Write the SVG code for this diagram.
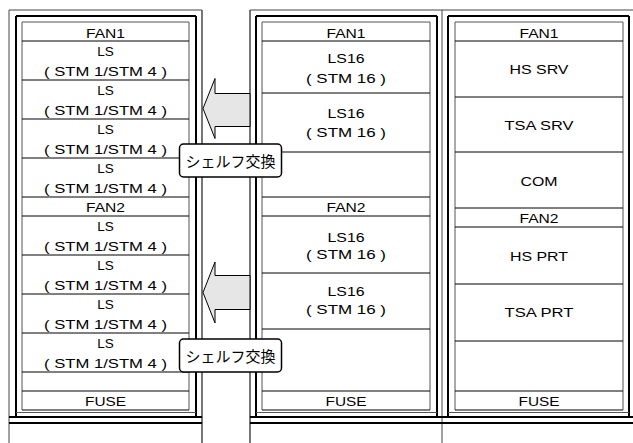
<svg xmlns="http://www.w3.org/2000/svg" width="633" height="443" viewBox="0 0 633 443">
<style>
.o{stroke:#444;stroke-width:1;fill:none}
.g{stroke:#555;stroke-width:1.6;fill:none}
.t{stroke:#000;stroke-width:2;fill:none}
.i{stroke:#555;stroke-width:1;fill:none}
.r{stroke:#000;stroke-width:1;fill:none}
text{font-family:"Liberation Sans",Arial,sans-serif;font-size:13.5px;text-anchor:middle;fill:#000}
.arrow{fill:#e6e6e6;stroke:#000;stroke-width:1}
.lbl{fill:#fff;stroke:#000;stroke-width:1.5}
.lt{font-family:"Noto Sans CJK JP","Noto Sans CJK SC",sans-serif;font-size:15px;dominant-baseline:central}
</style>
<rect width="633" height="443" fill="#fff"/>
<g id="frames">
<path class="o" d="M9,10H202M250,10H633M9,10V443M442,10V443"/>
<path class="g" d="M202,10V443M250,10V443"/>
<path class="t" d="M16,16H196M256,16H437M448,16H629M16,16V417M196,16V417M256,16V417M437,16V417M448,16V417M629,16V417"/>
<path class="t" d="M9,417H202M250,417H633M9,423H202M250,423H633"/>
<path class="i" d="M22,22H189M262,22H430M455,22H623M22,22V410M189,22V410M262,22V410M430,22V410M455,22V410M623,22V410M16,412.5H196M256,412.5H437M448,412.5H629"/>
</g>
<g id="rack-left">
<path class="r" d="M22,41H189M22,80H189M22,119H189M22,158H189M22,197H189M22,216H189M22,255H189M22,294H189M22,333H189M22,372H189M22,391H189M22,410H189"/>
<text x="105.5" y="37.5" textLength="39" lengthAdjust="spacingAndGlyphs">FAN1</text>
<text x="105.5" y="56">LS</text><text x="105.5" y="76" textLength="123" lengthAdjust="spacingAndGlyphs">( STM 1/STM 4 )</text>
<text x="105.5" y="95">LS</text><text x="105.5" y="115" textLength="123" lengthAdjust="spacingAndGlyphs">( STM 1/STM 4 )</text>
<text x="105.5" y="134">LS</text><text x="105.5" y="154" textLength="123" lengthAdjust="spacingAndGlyphs">( STM 1/STM 4 )</text>
<text x="105.5" y="173">LS</text><text x="105.5" y="193" textLength="123" lengthAdjust="spacingAndGlyphs">( STM 1/STM 4 )</text>
<text x="105.5" y="211.5" textLength="39" lengthAdjust="spacingAndGlyphs">FAN2</text>
<text x="105.5" y="231">LS</text><text x="105.5" y="251" textLength="123" lengthAdjust="spacingAndGlyphs">( STM 1/STM 4 )</text>
<text x="105.5" y="270">LS</text><text x="105.5" y="290" textLength="123" lengthAdjust="spacingAndGlyphs">( STM 1/STM 4 )</text>
<text x="105.5" y="309">LS</text><text x="105.5" y="329" textLength="123" lengthAdjust="spacingAndGlyphs">( STM 1/STM 4 )</text>
<text x="105.5" y="348">LS</text><text x="105.5" y="368" textLength="123" lengthAdjust="spacingAndGlyphs">( STM 1/STM 4 )</text>
<text x="105.5" y="405.5" textLength="41" lengthAdjust="spacingAndGlyphs">FUSE</text>
</g>
<g id="rack-middle">
<path class="r" d="M262,41H430M262,93H430M262,152H430M262,197H430M262,216H430M262,273H430M262,329H430M262,391H430M262,410H430"/>
<text x="346" y="37.5" textLength="39" lengthAdjust="spacingAndGlyphs">FAN1</text>
<text x="346" y="63" textLength="37" lengthAdjust="spacingAndGlyphs">LS16</text><text x="346" y="83" textLength="80" lengthAdjust="spacingAndGlyphs">( STM 16 )</text>
<text x="346" y="118" textLength="37" lengthAdjust="spacingAndGlyphs">LS16</text><text x="346" y="137" textLength="80" lengthAdjust="spacingAndGlyphs">( STM 16 )</text>
<text x="346" y="211.5" textLength="39" lengthAdjust="spacingAndGlyphs">FAN2</text>
<text x="346" y="241.5" textLength="37" lengthAdjust="spacingAndGlyphs">LS16</text><text x="346" y="259" textLength="80" lengthAdjust="spacingAndGlyphs">( STM 16 )</text>
<text x="346" y="295.5" textLength="37" lengthAdjust="spacingAndGlyphs">LS16</text><text x="346" y="314" textLength="80" lengthAdjust="spacingAndGlyphs">( STM 16 )</text>
<text x="346" y="405.5" textLength="41" lengthAdjust="spacingAndGlyphs">FUSE</text>
</g>
<g id="rack-right">
<path class="r" d="M455,41H623M455,97H623M455,152H623M455,208H623M455,227H623M455,284H623M455,341H623M455,391H623M455,410H623"/>
<text x="539" y="37.5" textLength="39" lengthAdjust="spacingAndGlyphs">FAN1</text>
<text x="539" y="74" textLength="59" lengthAdjust="spacingAndGlyphs">HS SRV</text>
<text x="539" y="130" textLength="69" lengthAdjust="spacingAndGlyphs">TSA SRV</text>
<text x="539" y="185.5" textLength="37" lengthAdjust="spacingAndGlyphs">COM</text>
<text x="539" y="222.5" textLength="39" lengthAdjust="spacingAndGlyphs">FAN2</text>
<text x="539" y="261" textLength="58" lengthAdjust="spacingAndGlyphs">HS PRT</text>
<text x="539" y="317" textLength="69" lengthAdjust="spacingAndGlyphs">TSA PRT</text>
<text x="539" y="405.5" textLength="41" lengthAdjust="spacingAndGlyphs">FUSE</text>
</g>
<g id="connectors">
<polygon class="arrow" points="203,108.5 215,78.5 215,93.5 250,93.5 250,126.5 215,126.5 215,138.5"/>
<polygon class="arrow" points="203,292.5 215,262 215,275.5 250,275.5 250,309.5 215,309.5 215,323"/>
</g>
<g id="label-upper">
<rect class="lbl" x="179.5" y="144" width="102" height="33" rx="4"/>
<text class="lt" x="230.5" y="160.5">シェルフ交換</text>
</g>
<g id="label-lower">
<rect class="lbl" x="179.5" y="339" width="102" height="33" rx="4"/>
<text class="lt" x="230.5" y="355.5">シェルフ交換</text>
</g>
</svg>
